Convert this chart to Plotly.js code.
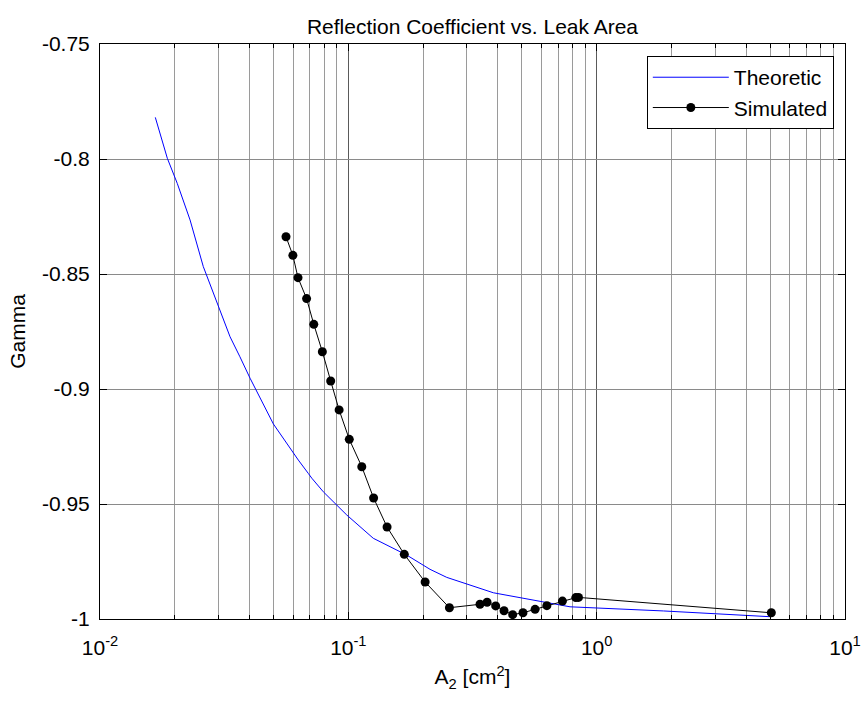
<!DOCTYPE html>
<html><head><meta charset="utf-8">
<script src="https://cdn.plot.ly/plotly-3.0.1.min.js"></script>
<style>html,body{margin:0;padding:0;background:#fff}#chart{width:864px;height:705px}</style>
</head><body><div id="chart"></div>
<script>
// Theoretic curve (blue)
const theoX = [0.0167, 0.01867, 0.02047, 0.02305, 0.02606, 0.02996, 0.0334, 0.0366, 0.0402, 0.0499, 0.0582, 0.0629, 0.069, 0.0713, 0.0793, 0.0898, 0.0986, 0.126, 0.1718, 0.2133, 0.249, 0.3838, 0.5916, 0.781, 1.857, 4.99];
const theoY = [-0.7819, -0.7997, -0.8106, -0.8265, -0.8468, -0.8642, -0.8773, -0.886, -0.8953, -0.9152, -0.926, -0.9309, -0.9367, -0.9388, -0.9447, -0.9504, -0.9548, -0.9649, -0.9722, -0.9784, -0.9819, -0.9886, -0.9925, -0.9947, -0.9965, -0.999];
// Simulated points (black with dots)
const simX = [0.0561, 0.0598, 0.0627, 0.0679, 0.0726, 0.0786, 0.0849, 0.0918, 0.1009, 0.1133, 0.1264, 0.1432, 0.168, 0.2038, 0.2553, 0.339, 0.362, 0.392, 0.4236, 0.459, 0.505, 0.565, 0.630, 0.728, 0.824, 0.845, 5.05];
const simY = [-0.8338, -0.8419, -0.8516, -0.8607, -0.8719, -0.8838, -0.8965, -0.9091, -0.9219, -0.9338, -0.9474, -0.96, -0.9719, -0.9839, -0.9951, -0.9936, -0.9927, -0.9943, -0.9964, -0.9981, -0.9973, -0.9958, -0.9942, -0.9922, -0.9907, -0.9906, -0.9973];
// Tick labels
const xTickVals = [0.01, 0.1, 1, 10];
const xTickText = ['10<sup>-2</sup>', '10<sup>-1</sup>', '10<sup>0</sup>', '10<sup>1</sup>'];
const yTickVals = [-1, -0.95, -0.9, -0.85, -0.8, -0.75];
const yTickText = ['-1', '-0.95', '-0.9', '-0.85', '-0.8', '-0.75'];
const decades = [0.01, 0.1, 1];
const minorDigits = [2, 3, 4, 5, 6, 7, 8, 9];

const minorVals = [];
decades.forEach(d => minorDigits.forEach(m => minorVals.push(+(d * m).toPrecision(3))));

const FONT = 'Liberation Sans, Arial, Helvetica, sans-serif';
const traces = [
  {x: theoX, y: theoY, type: 'scatter', mode: 'lines', name: 'Theoretic',
   line: {color: 'rgb(0,0,255)', width: 1}, hoverinfo: 'skip'},
  {x: simX, y: simY, type: 'scatter', mode: 'lines+markers', name: 'Simulated',
   line: {color: '#000', width: 1}, marker: {color: '#000', size: 9, symbol: 'circle'}, hoverinfo: 'skip'}
];
const layout = {
  width: 864, height: 705,
  margin: {l: 100, r: 19, t: 44, b: 86, pad: 0},
  paper_bgcolor: '#fff', plot_bgcolor: '#fff',
  font: {family: FONT, size: 21, color: '#000'},
  title: {text: 'Reflection Coefficient vs. Leak Area', font: {family: FONT, size: 21, color: '#000'},
          x: 0.5, xref: 'paper', xanchor: 'center', y: 1 - 27/705, yref: 'container', yanchor: 'middle'},
  showlegend: true,
  legend: {x: 0.985, xanchor: 'right', y: 0.979, yanchor: 'top', bgcolor: '#fff', bordercolor: '#000', borderwidth: 1,
           font: {family: FONT, size: 21, color: '#000'}, itemwidth: 76, tracegroupgap: 0},
  xaxis: {
    type: 'log', range: [-2, 1], autorange: false,
    tickmode: 'array', tickvals: xTickVals, ticktext: xTickText,
    showline: true, linecolor: '#000', linewidth: 1, mirror: 'ticks',
    ticks: 'inside', ticklen: 7, tickcolor: '#000', tickwidth: 1,
    showgrid: true, gridcolor: '#5a5a5a', gridwidth: 1,
    minor: {tickmode: 'array', tickvals: minorVals, ticks: 'inside', ticklen: 4, tickcolor: '#000',
            showgrid: true, gridcolor: '#9a9a9a', gridwidth: 1},
    zeroline: false, ticklabelstandoff: 10,
    tickfont: {family: FONT, size: 21, color: '#000'},
    title: {text: 'A<sub>2</sub> [cm<sup>2</sup>]', font: {family: FONT, size: 21, color: '#000'}, standoff: 11}
  },
  yaxis: {
    range: [-1, -0.75], autorange: false,
    tickmode: 'array', tickvals: yTickVals, ticktext: yTickText,
    showline: true, linecolor: '#000', linewidth: 1, mirror: 'ticks',
    ticks: 'inside', ticklen: 7, tickcolor: '#000', tickwidth: 1,
    showgrid: true, gridcolor: '#8a8a8a', gridwidth: 1,
    zeroline: false, ticklabelstandoff: 5,
    tickfont: {family: FONT, size: 21, color: '#000'},
    title: {text: 'Gamma', font: {family: FONT, size: 21, color: '#000'}, standoff: 10}
  }
};
Plotly.newPlot('chart', traces, layout, {staticPlot: true, displayModeBar: false});
</script>
</body></html>
